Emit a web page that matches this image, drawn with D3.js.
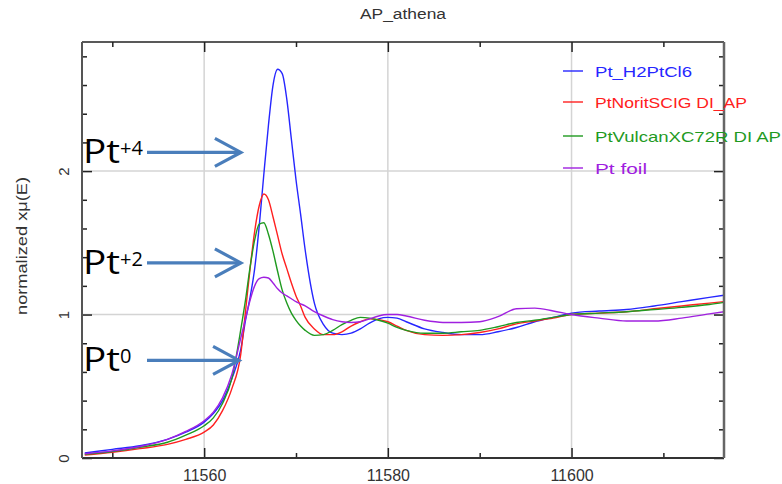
<!DOCTYPE html>
<html><head><meta charset="utf-8">
<script src="https://cdn.jsdelivr.net/npm/d3@7"></script>
<style>
html,body{margin:0;padding:0;background:#fff;}
svg{display:block;}
</style></head>
<body>
<svg id="chart" width="782" height="484"></svg>
<script>
const energy = [11547,11550,11553,11556,11558,11560,11561,11562,11563,11564,11564.5,11565,11565.5,11566,11566.5,11567,11567.5,11568,11568.5,11569,11569.5,11570,11570.5,11571,11572,11573,11574,11575,11576,11577,11578,11579,11580,11581,11582,11584,11586,11588,11590,11592,11594,11596,11598,11600,11603,11606,11609,11612,11615,11616.6];
const muH2PtCl6 = [0.035,0.06,0.085,0.13,0.18,0.25,0.31,0.40,0.55,0.76,0.96,1.12,1.32,1.62,1.98,2.32,2.60,2.71,2.68,2.50,2.22,1.94,1.70,1.45,1.08,0.93,0.87,0.86,0.87,0.90,0.94,0.97,0.98,0.975,0.95,0.90,0.875,0.86,0.86,0.88,0.91,0.95,0.98,1.01,1.025,1.035,1.06,1.09,1.12,1.135];
const muNorit = [0.02,0.04,0.065,0.095,0.13,0.18,0.23,0.33,0.48,0.73,1.02,1.32,1.58,1.76,1.84,1.80,1.68,1.55,1.42,1.32,1.22,1.13,1.06,0.98,0.90,0.86,0.86,0.88,0.92,0.95,0.97,0.965,0.95,0.92,0.89,0.86,0.855,0.86,0.875,0.90,0.935,0.955,0.975,1.0,1.01,1.02,1.04,1.06,1.08,1.09];
const muVulcan = [0.025,0.045,0.075,0.11,0.16,0.225,0.28,0.38,0.55,0.90,1.10,1.33,1.52,1.63,1.64,1.56,1.44,1.30,1.17,1.08,1.01,0.96,0.92,0.89,0.855,0.86,0.89,0.93,0.96,0.98,0.975,0.96,0.94,0.91,0.89,0.87,0.87,0.88,0.89,0.915,0.945,0.96,0.98,1.0,1.01,1.02,1.035,1.05,1.07,1.085];
const muFoil = [0.03,0.05,0.08,0.13,0.185,0.26,0.32,0.42,0.58,0.84,0.97,1.10,1.20,1.25,1.26,1.255,1.22,1.18,1.15,1.13,1.11,1.09,1.075,1.06,1.02,0.99,0.965,0.95,0.945,0.95,0.97,0.99,1.0,1.0,0.99,0.96,0.945,0.945,0.95,0.985,1.04,1.045,1.025,1.0,0.975,0.955,0.955,0.975,1.005,1.02];

const seriesNames = ["Pt_H2PtCl6","PtNoritSCIG DI_AP","PtVulcanXC72R DI AP","Pt foil"];
const seriesColors = ["#2626ff","#ff2020","#1f9a1f","#a020e0"];
const seriesValues = [muH2PtCl6, muNorit, muVulcan, muFoil];

const xTicksMajor = [11560,11580,11600];
const xTicksMinor = [11550,11570,11590,11610];
const yTicksMajor = [0,1,2];
const yTicksMinor = [0.2,0.4,0.6,0.8,1.2,1.4,1.6,1.8,2.2,2.4,2.6,2.8];

const chartTitle = "AP_athena";
const yLabel = "normalized xμ(E)";
const annotations = [
  {base:"Pt", sup:"+4", E:11564.0, mu:2.13},
  {base:"Pt", sup:"+2", E:11564.0, mu:1.36},
  {base:"Pt", sup:"0",  E:11563.8, mu:0.68}
];

const svg = d3.select("#chart");
const L = 82, R = 724, T = 42, B = 458;
const x = d3.scaleLinear().domain([11546.7, 11616.6]).range([L, R]);
const y = d3.scaleLinear().domain([0, 2.9]).range([B, T]);
const font = "'Liberation Sans', Arial, sans-serif";

// grid
const grid = svg.append("g").attr("stroke","#d4d4d4").attr("stroke-width",1.5);
xTicksMajor.forEach(v => grid.append("line").attr("x1",x(v)).attr("x2",x(v)).attr("y1",T).attr("y2",B));
yTicksMajor.filter(v=>v>0).forEach(v => grid.append("line").attr("x1",L).attr("x2",R).attr("y1",y(v)).attr("y2",y(v)));

// curves
svg.append("clipPath").attr("id","clip").append("rect").attr("x",L).attr("y",T).attr("width",R-L).attr("height",B-T);
const line = d3.line().curve(d3.curveMonotoneX);
const cg = svg.append("g").attr("clip-path","url(#clip)");
seriesValues.forEach((vals,i) => {
  cg.append("path")
    .attr("d", line(energy.map((e,j)=>[x(e), y(vals[j])])))
    .attr("fill","none").attr("stroke",seriesColors[i]).attr("stroke-width",1.4);
});

// axes (ticks inward)
const axG = svg.append("g");
const axBottom = d3.axisBottom(x).tickValues(xTicksMajor).tickSize(-10).tickFormat(d3.format("d"));
const axBottomMinor = d3.axisBottom(x).tickValues(xTicksMinor).tickSize(-5).tickFormat("");
const axTop = d3.axisTop(x).tickValues(xTicksMajor).tickSize(-10).tickFormat("");
const axTopMinor = d3.axisTop(x).tickValues(xTicksMinor).tickSize(-5).tickFormat("");
const axLeft = d3.axisLeft(y).tickValues(yTicksMajor).tickSize(-10).tickFormat(d3.format("d"));
const axLeftMinor = d3.axisLeft(y).tickValues(yTicksMinor).tickSize(-5).tickFormat("");
const axRight = d3.axisRight(y).tickValues(yTicksMajor).tickSize(-10).tickFormat("");
const axRightMinor = d3.axisRight(y).tickValues(yTicksMinor).tickSize(-5).tickFormat("");

function styleAxis(g){
  g.select(".domain").remove();
  g.selectAll(".tick line").attr("stroke","#222").attr("stroke-width",1.5);
  g.selectAll(".tick text").attr("fill","#333").style("font-family",font);
}
const gb = axG.append("g").attr("transform",`translate(0,${B})`).call(axBottom).call(styleAxis);
gb.selectAll(".tick text").style("font-size","16px").attr("y",12).attr("dy","0.71em");
axG.append("g").attr("transform",`translate(0,${B})`).call(axBottomMinor).call(styleAxis);
axG.append("g").attr("transform",`translate(0,${T})`).call(axTop).call(styleAxis);
axG.append("g").attr("transform",`translate(0,${T})`).call(axTopMinor).call(styleAxis);
const gl = axG.append("g").attr("transform",`translate(${L},0)`).call(axLeft).call(styleAxis);
gl.selectAll(".tick text").style("font-size","15px")
  .attr("x",null).attr("text-anchor","middle")
  .attr("transform","translate(-18,0) rotate(-90)").attr("y",0).attr("dy","0.35em");
axG.append("g").attr("transform",`translate(${L},0)`).call(axLeftMinor).call(styleAxis);
axG.append("g").attr("transform",`translate(${R},0)`).call(axRight).call(styleAxis);
axG.append("g").attr("transform",`translate(${R},0)`).call(axRightMinor).call(styleAxis);

// frame
svg.append("line").attr("x1",L).attr("x2",R).attr("y1",T).attr("y2",T).attr("stroke","#222").attr("stroke-width",1.5);
svg.append("line").attr("x1",L).attr("x2",R).attr("y1",B).attr("y2",B).attr("stroke","#333").attr("stroke-width",2);
svg.append("line").attr("x1",L).attr("x2",L).attr("y1",T).attr("y2",B).attr("stroke","#555").attr("stroke-width",2);
svg.append("line").attr("x1",R).attr("x2",R).attr("y1",T).attr("y2",B).attr("stroke","#666").attr("stroke-width",2.5);

// title
svg.append("text").attr("x",(L+R)/2).attr("y",19).attr("text-anchor","middle")
  .style("font-family",font).style("font-size","14px").attr("fill","#333")
  .attr("textLength",86).attr("lengthAdjust","spacingAndGlyphs").text(chartTitle);

// y label
svg.append("text").attr("transform",`translate(27,${(T+B)/2 - 4}) rotate(-90)`).attr("text-anchor","middle")
  .style("font-family",font).style("font-size","14px").attr("fill","#333")
  .attr("textLength",138).attr("lengthAdjust","spacingAndGlyphs").text(yLabel);

// legend
const lg = svg.append("g");
const legendY = [71,102,136,168];
const legendLen = [97,152,186,52];
seriesNames.forEach((n,i)=>{
  lg.append("line").attr("x1",563).attr("x2",583).attr("y1",legendY[i]).attr("y2",legendY[i])
    .attr("stroke",seriesColors[i]).attr("stroke-width",1.4);
  lg.append("text").attr("x",595).attr("y",legendY[i]+6)
    .style("font-family",font).style("font-size","15px").attr("fill",seriesColors[i])
    .attr("textLength",legendLen[i]).attr("lengthAdjust","spacingAndGlyphs").text(n);
});

// annotations
const ag = svg.append("g");
annotations.forEach(a=>{
  const tx = x(a.E), ty = y(a.mu);
  ag.append("line").attr("x1",147).attr("x2",tx-2).attr("y1",ty).attr("y2",ty)
    .attr("stroke","#4a7ebb").attr("stroke-width",3.2);
  ag.append("path").attr("d",`M${tx-26},${ty-14} L${tx},${ty} L${tx-26},${ty+14}`)
    .attr("fill","none").attr("stroke","#4a7ebb").attr("stroke-width",3.2);
  ag.append("text").attr("x",83).attr("y",ty+11)
    .style("font-family","'Open Sans', sans-serif").style("font-size","32px").attr("fill","#000")
    .attr("textLength",37).attr("lengthAdjust","spacingAndGlyphs").text(a.base);
  ag.append("text").attr("x",120).attr("y",ty+3)
    .style("font-family","'Open Sans', sans-serif").style("font-size","20px").attr("fill","#000")
    .text(a.sup);
});
</script>
</body></html>
